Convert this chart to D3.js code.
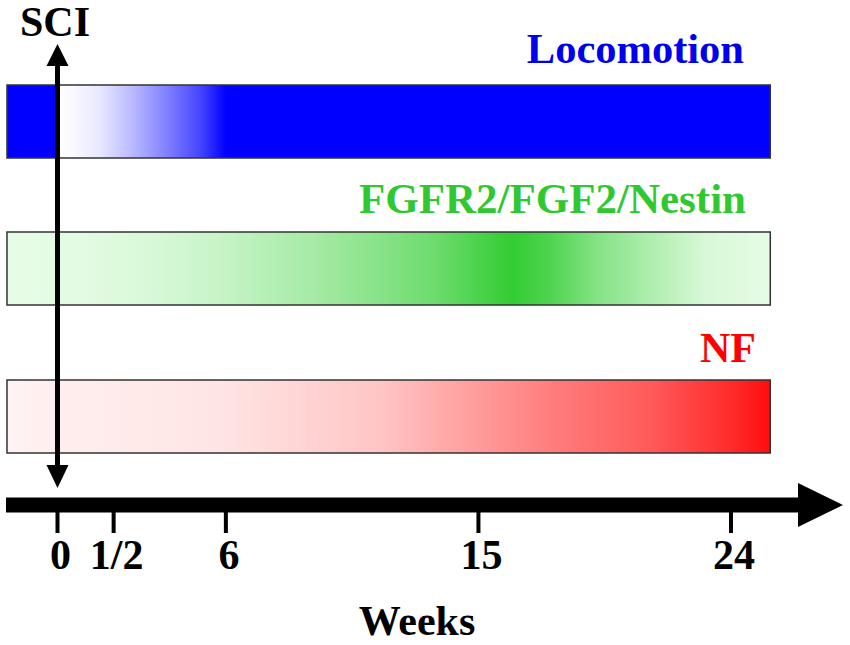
<!DOCTYPE html>
<html>
<head>
<meta charset="utf-8">
<script src="https://cdn.jsdelivr.net/npm/d3@7"></script>
<style>
  body { margin: 0; background: #fff; }
  svg text { font-family: "Liberation Serif", "Times New Roman", serif; font-weight: bold; }
</style>
</head>
<body>
<svg id="chart" width="850" height="645"></svg>
<script>
// tick weeks and their labels
var tickWeeks = [0, 2, 6, 15, 24];
var tickLabels = ["0", "1/2", "6", "15", "24"];

// time span of the bars (weeks)
var barSpan = [-1.8, 25.4];

// tracks
var trackNames = ["Locomotion", "FGFR2/FGF2/Nestin", "NF"];
var trackFull = ["#0000ff", "#33cc33", "#ff0d0d"];
var trackLight = ["#ffffff", "#e6fce6", "#fff3f3"];
var trackText = ["#0000ee", "#30c830", "#ff0000"];

// intensity (0 = light, 1 = full colour) along each bar, [week, intensity]
var locomotionLevels = [[-1.8, 1], [0, 1], [0, 0], [0.5, 0.02], [1.5, 0.09], [2.7, 0.28], [3.9, 0.5], [5.1, 0.73], [6, 1], [25.4, 1]];
var fgfLevels = [[-1.8, 0], [1, 0.02], [3, 0.07], [5.7, 0.17], [9.6, 0.39], [13.4, 0.67], [16.2, 1], [17.5, 0.85], [19.2, 0.55], [21.2, 0.3], [23.1, 0.08], [25.4, 0]];
var nfLevels = [[-1.8, 0], [0, 0.02], [5.7, 0.06], [8.6, 0.13], [11.5, 0.2], [17.3, 0.5], [21.2, 0.67], [24.1, 0.88], [25.4, 1]];

var allLevels = [locomotionLevels, fgfLevels, nfLevels];

document.addEventListener("DOMContentLoaded", function () {
  var svg = d3.select("#chart");
  var x = d3.scaleLinear().domain([0, 24]).range([57.5, 731]);

  var barTop = [85, 232, 380];
  var barH = 73;
  var labelY = [63, 213, 362];
  var labelRight = [744, 746, 756];
  var labelSize = [42.5, 43, 42];

  var defs = svg.append("defs");
  var x0 = x(barSpan[0]), x1 = x(barSpan[1]);

  trackNames.forEach(function (name, i) {
    var interp = d3.interpolateRgb(trackLight[i], trackFull[i]);
    var grad = defs.append("linearGradient")
      .attr("id", "grad" + i)
      .attr("x1", "0%").attr("x2", "100%")
      .attr("y1", "0%").attr("y2", "0%");
    grad.selectAll("stop").data(allLevels[i]).enter().append("stop")
      .attr("offset", function (d) { return ((x(d[0]) - x0) / (x1 - x0) * 100) + "%"; })
      .attr("stop-color", function (d) { return interp(d[1]); });

    svg.append("rect")
      .attr("x", x0)
      .attr("y", barTop[i])
      .attr("width", x1 - x0)
      .attr("height", barH)
      .attr("fill", "url(#grad" + i + ")")
      .attr("stroke", "#333")
      .attr("stroke-width", 1.5);

    svg.append("text")
      .attr("x", labelRight[i])
      .attr("y", labelY[i])
      .attr("text-anchor", "end")
      .attr("font-size", labelSize[i])
      .attr("fill", trackText[i])
      .text(name);
  });

  // time axis: thick arrow
  var axisY = 505;
  svg.append("rect")
    .attr("x", x(barSpan[0]) - 1)
    .attr("y", axisY - 7.5)
    .attr("width", 800 - x(barSpan[0]))
    .attr("height", 15)
    .attr("fill", "#000");
  svg.append("path")
    .attr("d", "M798," + (axisY - 22) + " L843," + axisY + " L798," + (axisY + 22) + "Z")
    .attr("fill", "#000");

  // ticks
  svg.selectAll(".tick").data(tickWeeks).enter().append("rect")
    .attr("class", "tick")
    .attr("x", function (d) { return x(d) - 2; })
    .attr("y", axisY + 5)
    .attr("width", 4)
    .attr("height", 23)
    .attr("fill", "#000");

  svg.selectAll(".tlabel").data(tickWeeks).enter().append("text")
    .attr("class", "tlabel")
    .attr("x", function (d) { return x(d) + 3; })
    .attr("y", 569)
    .attr("text-anchor", "middle")
    .attr("font-size", 42)
    .text(function (d, i) { return tickLabels[i]; });

  svg.append("text")
    .attr("x", 417)
    .attr("y", 635)
    .attr("text-anchor", "middle")
    .attr("font-size", 42)
    .text("Weeks");

  // SCI double arrow at week 0
  var sx = x(0);
  svg.append("line")
    .attr("x1", sx).attr("x2", sx)
    .attr("y1", 60).attr("y2", 470)
    .attr("stroke", "#000")
    .attr("stroke-width", 5);
  svg.append("path")
    .attr("d", "M" + (sx - 11) + ",66 L" + sx + ",44 L" + (sx + 11) + ",66Z")
    .attr("fill", "#000");
  svg.append("path")
    .attr("d", "M" + (sx - 11) + ",465 L" + sx + ",488 L" + (sx + 11) + ",465Z")
    .attr("fill", "#000");

  svg.append("text")
    .attr("x", 20)
    .attr("y", 36)
    .attr("font-size", 42)
    .text("SCI");
});
</script>
</body>
</html>
